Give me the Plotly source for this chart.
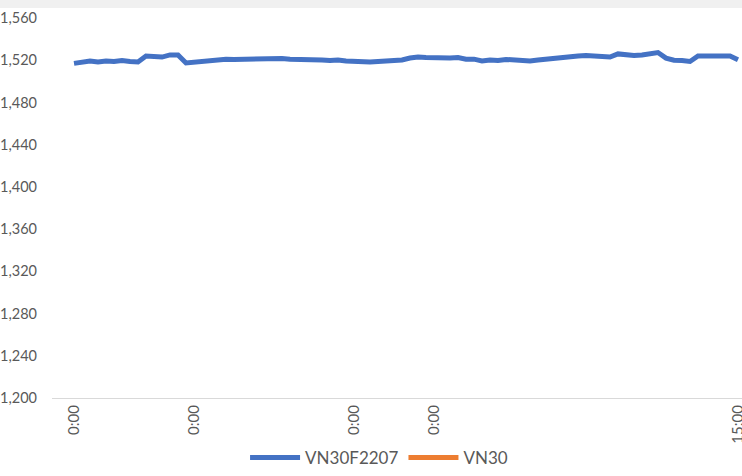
import plotly.graph_objects as go

vn30f2207 = [
    1517.0, 1518.3, 1519.3, 1518.3, 1519.2, 1518.8, 1519.7, 1518.8, 1518.3, 1524.0,
    1523.0, 1523.0, 1525.0, 1525.0, 1517.4, 1518.3, 1519.3, 1519.7, 1520.2, 1521.0,
    1520.7, 1521.0, 1521.3, 1521.0, 1521.6, 1521.0, 1521.6, 1521.0, 1521.0, 1520.7,
    1520.2, 1520.2, 1519.7, 1520.2, 1519.3, 1518.8, 1518.8, 1518.3, 1518.8, 1519.3,
    1519.7, 1520.2, 1522.1, 1523.0, 1522.6, 1522.1, 1522.1, 1522.1, 1522.6, 1521.0,
    1521.0, 1519.3, 1520.2, 1519.7, 1520.7, 1520.2, 1520.2, 1519.3, 1520.2, 1521.0,
    1522.6, 1523.0, 1524.0, 1524.0, 1524.5, 1524.0, 1523.0, 1523.0, 1526.0, 1525.0,
    1524.5, 1525.0, 1526.4, 1527.3, 1522.0, 1520.0, 1519.7, 1518.8, 1524.0, 1524.0,
    1523.5, 1523.5, 1524.0, 1520.5,
]
vn30 = [None] * len(vn30f2207)
index = list(range(len(vn30f2207)))

tick_index = [0, 15, 35, 45, 83]
tick_labels = ["0:00", "0:00", "0:00", "0:00", "15:00"]
y_ticks = [1200, 1240, 1280, 1320, 1360, 1400, 1440, 1480, 1520, 1560]

fig = go.Figure()
fig.add_trace(go.Scatter(x=index, y=vn30f2207, mode="lines", name="VN30F2207",
                         line=dict(color="#4472C4", width=5)))
fig.add_trace(go.Scatter(x=index, y=vn30, mode="lines", name="VN30",
                         line=dict(color="#ED7D31", width=5)))

font_family = "Lato, 'Open Sans', sans-serif"
fig.update_layout(
    width=742, height=476,
    margin=dict(l=52, r=0, t=18, b=78),
    paper_bgcolor="white", plot_bgcolor="white",
    showlegend=True,
    legend=dict(orientation="h", x=0.474, xanchor="center", y=-0.205, yanchor="bottom",
                font=dict(family=font_family, size=17, color="#595959"),
                itemwidth=50, bgcolor="rgba(0,0,0,0)", borderwidth=0,
                tracegroupgap=0, itemsizing="constant"),
    font=dict(family=font_family, size=16, color="#595959"),
    shapes=[dict(type="rect", xref="paper", yref="paper",
                 x0=-0.1, x1=1.01, y0=1 + 10 / 380, y1=1 + 20 / 380,
                 fillcolor="#F0F0F0", line=dict(width=0), layer="below")],
)
fig.update_xaxes(range=[-2.75, 83.5], tickmode="array", tickvals=tick_index, ticktext=tick_labels,
                 tickangle=-90, showgrid=False, zeroline=False, showline=True,
                 linecolor="#D9D9D9", linewidth=1.3, ticks="", automargin=False,
                 ticklabeloverflow="allow",
                 tickfont=dict(family=font_family, size=15, color="#595959"))
fig.update_yaxes(range=[1200, 1560], tickmode="array", tickvals=y_ticks,
                 tickformat=",d", showgrid=False, zeroline=False, showline=False,
                 ticks="", automargin=False, ticklabelstandoff=14,
                 tickfont=dict(family=font_family, size=14.5, color="#595959"))

fig.write_html("out.html", config={"displayModeBar": False},
               post_script="document.body.style.margin='0';document.body.style.overflow='hidden';")
